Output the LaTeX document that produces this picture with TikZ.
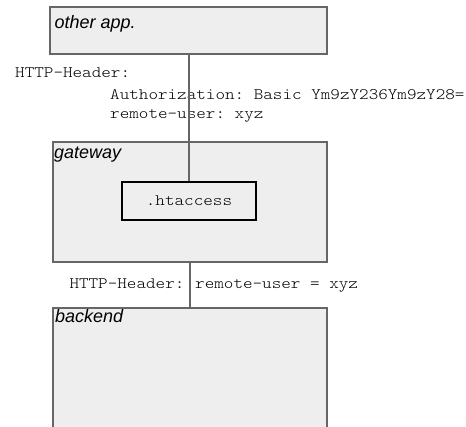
\documentclass[tikz,border=0pt]{standalone}
\usepackage{fontspec}
\setmainfont{Liberation Sans}
\setmonofont{lmmonolt10-regular.otf}[FakeStretch=1.14]
\definecolor{boxfill}{HTML}{EEEEEE}
\definecolor{boxline}{HTML}{666666}
\begin{document}
\begin{tikzpicture}[x=1pt,y=-1pt,
  tier/.style={draw=boxline,line width=1.5pt,fill=boxfill,inner sep=0pt},
  filebox/.style={draw=black,line width=2pt,fill=boxfill,inner sep=0pt,
    font=\fontsize{16}{18}\ttfamily},
  tiername/.style={anchor=base west,inner sep=0pt,font=\fontsize{18}{20}\itshape},
  header/.style={anchor=base west,inner sep=0pt,font=\fontsize{16}{18}\ttfamily},
  wire/.style={draw=boxline,line width=1.8pt}]
\useasboundingbox (0,0) rectangle (466,426);
\clip (0,0) rectangle (466,426);

% application tiers
\node[tier,minimum width=277pt,minimum height=47pt] (app) at (188.5,30.5) {};
\node[tier,minimum width=274pt,minimum height=120pt] (gw) at (190,202) {};
\node[filebox,minimum width=133.4pt,minimum height=38.3pt] (ht) at (189,201) {.htaccess};
\node[tier,minimum width=274pt,minimum height=150pt] (be) at (190,383) {};

% tier names
\node[tiername] (appname) at (54.5,28) {other app.};
\node[tiername] (gwname) at (54,158) {gateway};
\node[tiername] (bename) at (55,322) {backend};

% request headers
\node[header] (h1) at (15,77) {HTTP-Header:};
\node[header] (h1a) at (110,99) {Authorization: Basic Ym9zY236Ym9zY28=};
\node[header] (h1b) at (110,118) {remote-user: xyz};
\node[header] (h2) at (69.3,288) {HTTP-Header:};
\node[header] (h2a) at (195,288) {remote-user = xyz};

% connections
\draw[wire] (ht.north |- app.south) -- (ht.north);
\draw[wire] (gw.south) -- (be.north);
\end{tikzpicture}
\end{document}
